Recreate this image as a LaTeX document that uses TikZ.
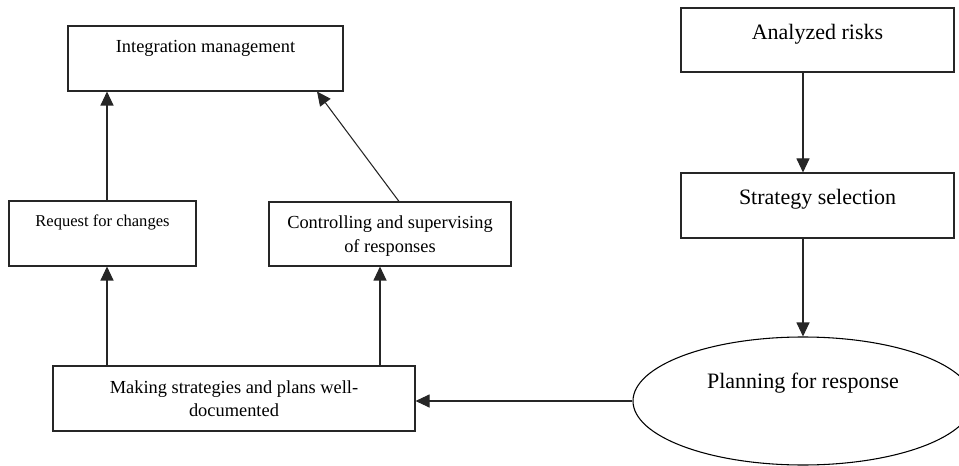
\documentclass[tikz,border=0pt]{standalone}
\usepackage{fontspec}
\setmainfont{Liberation Serif}
\usetikzlibrary{arrows.meta,shapes.geometric}

\tikzset{
  box/.style={draw=black!85, line width=0.8pt, rectangle, inner sep=0pt},
  oval/.style={draw=black, line width=0.8pt, ellipse, inner sep=0pt},
  sz/.style 2 args={minimum width=#1*0.75pt, minimum height=#2*0.75pt},
  lab/.style={anchor=north, inner sep=0pt, yshift=-#1*0.75pt, align=center},
  lab/.default=14.5,
  big/.style={font=\fontsize{16.5}{20}\selectfont},
  mid/.style={font=\fontsize{13.8}{17.6}\selectfont},
  small/.style={font=\fontsize{12.4}{15}\selectfont},
  arr/.style={draw=black!85, line width=0.8pt,
    -{Triangle[length=10.5pt, width=9.75pt]}},
}

\begin{document}
\begin{tikzpicture}[x=0.75pt, y=-0.75pt]
  \path[use as bounding box, clip] (0,0) rectangle (959,466);

  % boxes on the left
  \node[box, sz={275}{65}, label={[lab, mid]north:Integration management}]
    (im) at (205.5,58.5) {};
  \node[box, sz={187}{65}, label={[lab, small]north:Request for changes}]
    (rq) at (102.5,233.5) {};
  \node[box, sz={242}{64}, label={[lab, mid]north:Controlling and supervising\\of responses}]
    (ct) at (390,234) {};
  \node[box, sz={362}{65}, label={[lab, mid]north:Making strategies and plans well-\\documented}]
    (mk) at (234,398.5) {};

  % column on the right
  \node[box, sz={273}{64}, label={[lab=16.5, big]north:Analyzed risks}]
    (an) at (817.5,40) {};
  \node[box, sz={273}{65}, label={[lab=16.5, big]north:Strategy selection}]
    (st) at (817.5,205.5) {};
  \node[oval, sz={340}{128}, label={[anchor=base, inner sep=0pt, yshift=18*0.75pt, big]center:Planning for response}]
    (pl) at (803,401) {};

  % connectors
  \draw[arr] (an.south -| pl.north) -- (st.north -| pl.north);
  \draw[arr] (st.south -| pl.north) -- (pl.north);
  \draw[arr] (pl.west) -- (pl.west -| mk.east);
  \draw[arr] ([xshift=4.5*0.75pt]rq.south |- mk.north) -- ([xshift=4.5*0.75pt]rq.south);
  \draw[arr] ([xshift=-10*0.75pt]ct.south |- mk.north) -- ([xshift=-10*0.75pt]ct.south);
  \draw[arr] ([xshift=4.5*0.75pt]rq.north) -- ([xshift=4.5*0.75pt]rq.north |- im.south);
  \draw[arr] ([xshift=9*0.75pt]ct.north) -- ([xshift=111.5*0.75pt]im.south);
\end{tikzpicture}
\end{document}
